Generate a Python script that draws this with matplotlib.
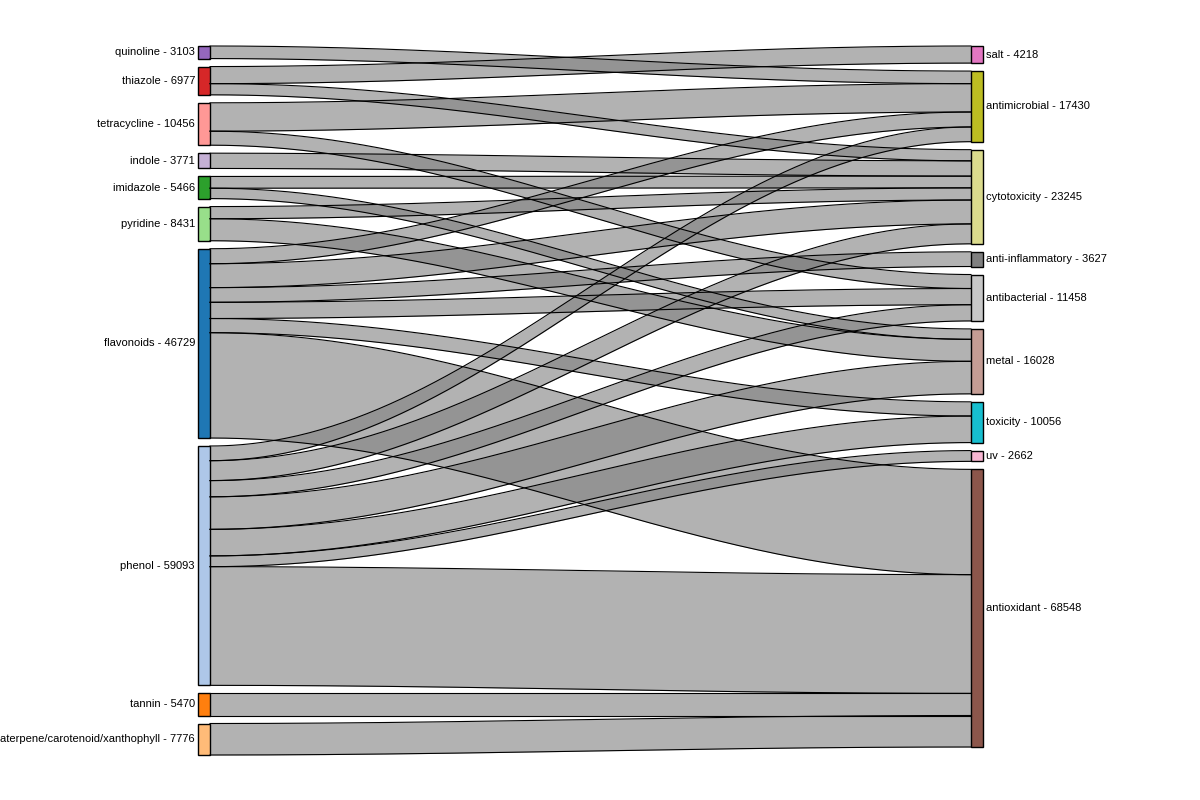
import numpy as np
import matplotlib.pyplot as plt

plt.rcParams['font.family'] = ['Liberation Sans', 'DejaVu Sans']

# node order and flows (source, target, value)
left_labels = ['quinoline', 'thiazole', 'tetracycline', 'indole', 'imidazole', 'pyridine',
               'flavonoids', 'phenol', 'tannin', 'aterpene/carotenoid/xanthophyll']
right_labels = ['salt', 'antimicrobial', 'cytotoxicity', 'anti-inflammatory', 'antibacterial',
                'metal', 'toxicity', 'uv', 'antioxidant']
flow_src = ['quinoline', 'thiazole', 'thiazole', 'tetracycline', 'tetracycline', 'indole',
            'imidazole', 'imidazole', 'pyridine', 'pyridine',
            'flavonoids', 'flavonoids', 'flavonoids', 'flavonoids', 'flavonoids', 'flavonoids',
            'phenol', 'phenol', 'phenol', 'phenol', 'phenol', 'phenol', 'phenol',
            'tannin', 'aterpene/carotenoid/xanthophyll']
flow_dst = ['antimicrobial', 'salt', 'cytotoxicity', 'antimicrobial', 'antibacterial', 'cytotoxicity',
            'cytotoxicity', 'metal', 'cytotoxicity', 'metal',
            'antimicrobial', 'cytotoxicity', 'anti-inflammatory', 'antibacterial', 'toxicity', 'antioxidant',
            'antimicrobial', 'cytotoxicity', 'antibacterial', 'metal', 'toxicity', 'uv', 'antioxidant',
            'antioxidant', 'antioxidant']
flow_val = [3103, 4218, 2759, 7000, 3456, 3771,
            2900, 2566, 3000, 5431,
            3700, 5900, 3627, 4000, 3500, 26002,
            3627, 4915, 4002, 8031, 6556, 2662, 29300,
            5470, 7776]

left_colors = ['#9467bd', '#d62728', '#ff9896', '#c5b0d5', '#2ca02c', '#98df8a',
               '#1f77b4', '#aec7e8', '#ff7f0e', '#ffbb78']
right_colors = ['#e377c2', '#bcbd22', '#dbdb8d', '#7f7f7f', '#c7c7c7',
                '#c49c94', '#17becf', '#f7b6d2', '#8c564b']

# layout in pixel coordinates
top, gap = 46, 8
total = sum(flow_val)
scale = (709 - 9 * gap) / total
xl0, xl1, xr0, xr1 = 198, 210, 971, 983

def totals(labels, key):
    return {l: sum(v for k, v in zip(key, flow_val) if k == l) for l in labels}

lt = totals(left_labels, flow_src)
rt = totals(right_labels, flow_dst)

def positions(labels, tot):
    pos, y = {}, top
    for l in labels:
        pos[l] = y
        y += tot[l] * scale + gap
    return pos

lpos = positions(left_labels, lt)
rpos = positions(right_labels, rt)

fig = plt.figure(figsize=(12, 8), dpi=100)
ax = fig.add_axes([0, 0, 1, 1])
ax.set_xlim(0, 1200)
ax.set_ylim(800, 0)
ax.axis('off')

# strips: on left node ordered by right labels, on right node ordered by left labels
flows = list(zip(flow_src, flow_dst, flow_val))
lcur = dict(lpos)
loff = {}
for s in left_labels:
    for d in right_labels:
        for i, (a, b, v) in enumerate(flows):
            if a == s and b == d:
                loff[i] = lcur[s]
                lcur[s] += v * scale
rcur = dict(rpos)
roff = {}
for d in right_labels:
    for s in left_labels:
        for i, (a, b, v) in enumerate(flows):
            if a == s and b == d:
                roff[i] = rcur[d]
                rcur[d] += v * scale

xs = np.linspace(xl1, xr0, 200)
t = (xs - xl1) / (xr0 - xl1)
sig = (1 - np.cos(np.pi * t)) / 2
for i, (a, b, v) in enumerate(flows):
    y0 = loff[i] + (roff[i] - loff[i]) * sig
    y1 = y0 + v * scale
    ax.fill_between(xs, y0, y1, color='#808080', alpha=0.6, lw=0)
    ax.plot(xs, y0, color='k', lw=0.8)
    ax.plot(xs, y1, color='k', lw=0.8)

for l, c in zip(left_labels, left_colors):
    h = lt[l] * scale
    ax.add_patch(plt.Rectangle((xl0, lpos[l]), xl1 - xl0, h, fc=c, ec='k', lw=1))
    ax.text(xl0 - 3, lpos[l] + h / 2, f'{l} - {lt[l]}', ha='right', va='center', fontsize=8)
for l, c in zip(right_labels, right_colors):
    h = rt[l] * scale
    ax.add_patch(plt.Rectangle((xr0, rpos[l]), xr1 - xr0, h, fc=c, ec='k', lw=1))
    ax.text(xr1 + 3, rpos[l] + h / 2, f'{l} - {rt[l]}', ha='left', va='center', fontsize=8)

fig.savefig('out.png')
